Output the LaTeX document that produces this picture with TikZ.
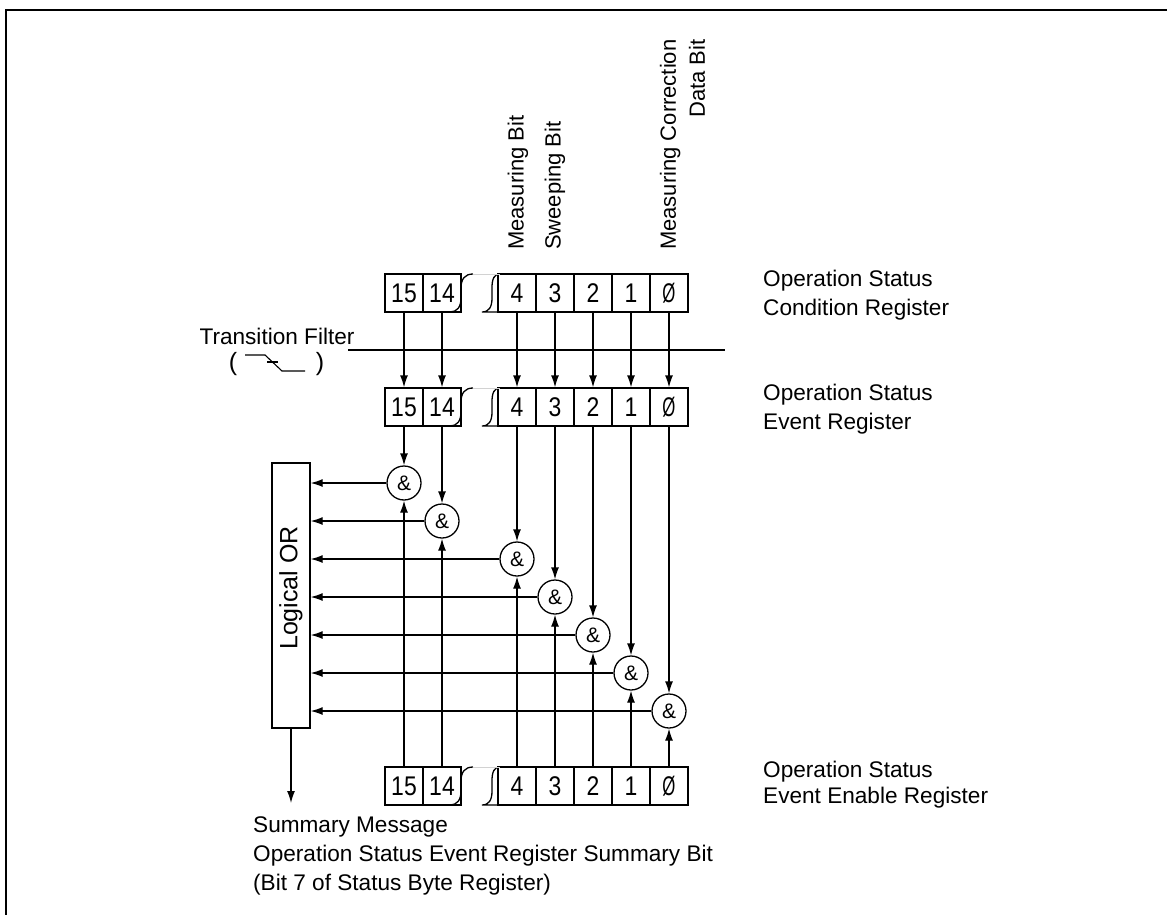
\documentclass[tikz,border=0pt]{standalone}
\usepackage{fontspec}
\setmainfont{Liberation Sans}
\usetikzlibrary{arrows.meta}
\newcommand{\dgt}[1]{\scalebox{0.85}[1]{#1}}
\begin{document}
\begin{tikzpicture}[x=1pt,y=-1pt,
  ln/.style={line width=1.3pt},
  arr/.style={ln,-{Latex[length=12pt,width=8pt]}},
  cell/.style={draw,line width=1.3pt,minimum width=38pt,minimum height=38pt,inner sep=0pt,font=\fontsize{27}{30}\selectfont},
  gate/.style={draw,circle,line width=1.3pt,minimum size=34pt,inner sep=0pt,font=\fontsize{21}{24}\selectfont},
  lbl/.style={font=\fontsize{22.6}{28}\selectfont,inner sep=0pt,anchor=west,text height=16pt,text depth=5pt},
  vlbl/.style={font=\fontsize{22}{29}\selectfont,inner sep=0pt,anchor=west,rotate=90,align=right},
]
\useasboundingbox (0,0) rectangle (1167,915);
% frame
\draw[line width=2.5pt] (6,915) -- (6,10) -- (1167,10);

% register rows
\foreach \r/\T in {a/274,b/388,c/767}{
  \pgfmathsetmacro{\cy}{\T+19}
  \node[cell] (\r15) at (404,\cy) {\dgt{15}};
  \node[cell] (\r14) at (442,\cy) {\dgt{14}};
  \node[cell] (\r4) at (517,\cy) {\dgt{4}};
  \node[cell] (\r3) at (555,\cy) {\dgt{3}};
  \node[cell] (\r2) at (593,\cy) {\dgt{2}};
  \node[cell] (\r1) at (631,\cy) {\dgt{1}};
  \node[cell] (\r0) at (669,\cy) {\scalebox{0.62}[1]{Ø}};
  \pgfmathsetmacro{\B}{\T+38}
  \draw[ln] (473,\T) .. controls (465,\T) and (461,\T+5) .. (461,\T+14) -- (461,\B-14) .. controls (461,\B-5) and (457,\B) .. (450,\B);
  \draw[ln] (500,\T) .. controls (494,\T) and (492,\T+5) .. (492,\T+14) -- (492,\B-14) .. controls (492,\B-5) and (489,\B) .. (482,\B) -- (498,\B);
  \draw[gray!35,line width=0.6pt] (473,\T) -- (500,\T);
}

% rotated labels
\node[vlbl] (lmeas) at (518,250) {Measuring Bit};
\node[vlbl] (lswp) at (555,250) {Sweeping Bit};
\node[vlbl] (lcorr) at (682.5,250) {Measuring Correction\\Data Bit};

% right labels
\node[lbl] (t1a) at (763,281) {Operation Status};
\node[lbl] (t1b) at (763,310) {Condition Register};
\node[lbl] (t2a) at (763,395) {Operation Status};
\node[lbl] (t2b) at (763,424) {Event Register};
\node[lbl] (t3a) at (763,772) {Operation Status};
\node[lbl] (t3b) at (763,798) {Event Enable Register};

% transition filter
\coordinate (tfL) at (348,350);
\coordinate (tfR) at (725,350);
\draw[ln] (tfL) -- (tfR);
\node[font=\fontsize{22.6}{26}\selectfont,inner sep=0pt] (tf) at (277,336) {Transition Filter};
\node[font=\fontsize{25}{28}\selectfont,inner sep=0pt] (pl) at (233,364) {(};
\node[font=\fontsize{25}{28}\selectfont,inner sep=0pt] (pr) at (320,364) {)};
\draw[line width=1.1pt] (245,355) -- (265,355) -- (282,371) -- (305,371);
\draw[line width=1.1pt] (267,362) -- (278,362);

% gates
\node[gate] (g15) at (404,483) {\&};
\node[gate] (g14) at (442,521) {\&};
\node[gate] (g4) at (517,559) {\&};
\node[gate] (g3) at (555,597) {\&};
\node[gate] (g2) at (593,635) {\&};
\node[gate] (g1) at (631,673) {\&};
\node[gate] (g0) at (669,711) {\&};

% OR box
\node[draw,line width=1.3pt,minimum width=38pt,minimum height=265pt,inner sep=0pt] (or) at (291,595.5) {};
\node[rotate=90,font=\fontsize{25}{28}\selectfont,inner sep=0pt] (ortxt) at (291,588) {Logical OR};

\foreach \k in {15,14,4,3,2,1,0}{
  \draw[arr] (a\k.south) -- (b\k.north);
  \draw[arr] (b\k.south) -- (g\k.north);
  \draw[arr] (c\k.north) -- (g\k.south);
  \draw[arr] (g\k.west) -- (g\k.west -| or.east);
}

\coordinate (sum) at (291,803);
\draw[arr] (or.south) -- (sum);

\node[lbl] (s1) at (253,827) {Summary Message};
\node[lbl] (s2) at (253,856) {Operation Status Event Register Summary Bit};
\node[lbl] (s3) at (253,885) {(Bit 7 of Status Byte Register)};
\end{tikzpicture}
\end{document}
